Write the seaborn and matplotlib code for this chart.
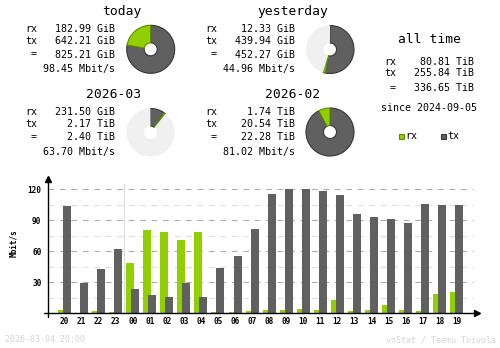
import numpy as np
import pandas as pd
import matplotlib
matplotlib.use("Agg")
import matplotlib.pyplot as plt
import seaborn as sns
from matplotlib.patches import Rectangle

sns.set_theme(style="white")
plt.rcParams['font.family'] = ['DejaVu Sans Mono']

# ---------------- data ----------------
hours = ["20", "21", "22", "23", "00", "01", "02", "03", "04", "05", "06", "07",
         "08", "09", "10", "11", "12", "13", "14", "15", "16", "17", "18", "19"]
rx_mbit = [3.2, 0.0, 2.3, 1.3, 48.7, 80.6, 78.7, 71.0, 78.7, 1.3, 1.3, 2.3,
           3.2, 3.2, 4.2, 3.2, 12.9, 2.3, 3.2, 8.1, 3.2, 2.3, 18.7, 20.6]
tx_mbit = [104.2, 29.7, 43.2, 62.3, 23.5, 17.7, 15.8, 29.4, 15.8, 43.9, 55.5, 81.6,
           115.5, 120.3, 120.3, 118.4, 114.5, 96.1, 93.2, 91.3, 87.4, 105.8, 104.8, 104.8]
y_ticks = [30, 60, 90, 120]

# summary blocks: title, rx text, tx text, total text, rate text
today = ["today", "182.99 GiB", "642.21 GiB", "825.21 GiB", "98.45 Mbit/s"]
yesterday = ["yesterday", "12.33 GiB", "439.94 GiB", "452.27 GiB", "44.96 Mbit/s"]
month_cur = ["2026-03", "231.50 GiB", "2.17 TiB", "2.40 TiB", "63.70 Mbit/s"]
month_prev = ["2026-02", "1.74 TiB", "20.54 TiB", "22.28 TiB", "81.02 Mbit/s"]
alltime = ["all time", "80.81 TiB", "255.84 TiB", "336.65 TiB", "since 2024-09-05"]

# pie values (rx, tx, reference max) in common units
pie_today = (182.99, 642.21, 825.21)
pie_yesterday = (12.33, 439.94, 825.21)
pie_cur = (231.50 / 1024, 2.17, 22.28)
pie_prev = (1.74, 20.54, 22.28)

footer_left = "2026-03-04 20:00"
footer_right = "vnStat / Teemu Toivola"

RX = "#92cf00"
TX = "#606060"
RXD = "#5f8a00"
TXD = "#363636"
EMPTY = "#f0f0f0"

W, H = 500, 348
fig = plt.figure(figsize=(5, 3.48), dpi=100)
fig.patch.set_facecolor("white")

ov = fig.add_axes([0, 0, 1, 1])
ov.set_xlim(0, W)
ov.set_ylim(H, 0)
ov.axis("off")
ov.patch.set_alpha(0)

FS = 7.2
TFS = 9.4


def block(data, lx, vx, cx, ty, rows):
    ov.text(cx, ty, data[0], ha="center", va="center", fontsize=TFS, color="black")
    for lab, val, y in zip(["rx", "tx", "="], data[1:4], rows[:3]):
        ov.text(lx, y, lab, ha="right", va="center", fontsize=FS, color="black")
        ov.text(vx, y, val, ha="right", va="center", fontsize=FS, color="black")
    ov.text(vx, rows[3], data[4], ha="right", va="center", fontsize=FS, color="black")


block(today, 37, 115, 122, 12, [29.3, 41.3, 54.5, 69.3])
block(yesterday, 217, 295, 293, 12, [29.3, 41.3, 54.5, 69.3])
block(month_cur, 37, 115, 114, 94.3, [112, 124, 137.3, 152])
block(month_prev, 217, 295, 293, 94.3, [112, 124, 137.3, 152])

# all time block
ov.text(429, 39.3, alltime[0], ha="center", va="center", fontsize=TFS, color="black")
for lab, val, y in zip(["rx", "tx", "="], alltime[1:4], [61.7, 73.3, 87.7]):
    ov.text(396, y, lab, ha="right", va="center", fontsize=FS, color="black")
    ov.text(474, y, val, ha="right", va="center", fontsize=FS, color="black")
ov.text(429, 108, alltime[4], ha="center", va="center", fontsize=FS, color="black")

# legend
ov.add_patch(Rectangle((398.5, 133.5), 5, 5, facecolor=RX, edgecolor=RXD, lw=0.8))
ov.text(405, 136, "rx", ha="left", va="center", fontsize=FS, color="black")
ov.add_patch(Rectangle((440.5, 133.5), 5, 5, facecolor=TX, edgecolor=TXD, lw=0.8))
ov.text(447, 136, "tx", ha="left", va="center", fontsize=FS, color="black")

# footer
ov.text(5, 340, footer_left, ha="left", va="center", fontsize=6, color="#d4d4d4")
ov.text(496, 340, footer_right, ha="right", va="center", fontsize=6, color="#d4d4d4")


def pie(cx, cy, vals, r=24, hole=6.5):
    rxv, txv, mx = vals
    empty = max(mx - rxv - txv, 0)
    pax = fig.add_axes([(cx - r - 1) / W, (H - cy - r - 1) / H, (2 * r + 2) / W, (2 * r + 2) / H])
    wedges, _ = pax.pie([txv, rxv, empty], colors=[TX, RX, EMPTY], startangle=90,
                        counterclock=False, radius=r / (r + 1),
                        wedgeprops=dict(width=(r - hole) / (r + 1), linewidth=0))
    wedges[0].set_edgecolor(TXD)
    wedges[0].set_linewidth(0.8)
    wedges[1].set_edgecolor(RXD)
    wedges[1].set_linewidth(0.8)
    pax.set_xlim(-1, 1)
    pax.set_ylim(-1, 1)
    pax.axis("off")


pie(150.7, 49.3, pie_today)
pie(330, 49.5, pie_yesterday)
pie(150.5, 132.5, pie_cur)
pie(330, 132, pie_prev)

# ---------------- bar chart ----------------
left_px, right_px = 48.3, 477
base_px = 313.3
unit_px = 124.0 / 120.0
top_px = 179
tick0_px, step_px = 64.5, 17.05

ax = fig.add_axes([left_px / W, (H - base_px) / H, (right_px - left_px) / W, (base_px - top_px) / H])
ax.patch.set_alpha(0)
xmin = -(tick0_px - left_px) / step_px
xmax = 23 + (right_px - (tick0_px + 23 * step_px)) / step_px
ymax = (base_px - top_px) / unit_px

pos = np.arange(len(hours), dtype=float)
off = 2.5 / step_px
bw = 8.0 / step_px
df = pd.DataFrame({"pos": pos, "hour": hours, "rx": rx_mbit, "tx": tx_mbit})

# grid
gx = (473 - left_px) / (right_px - left_px)
for v in [15, 45, 75, 105]:
    ax.axhline(v, xmin=0, xmax=gx, color="#dcdcdc", lw=0.75, dashes=(5.5, 5.5), zorder=0)
for v in y_ticks:
    ax.axhline(v, xmin=0, xmax=gx, color="#acacac", lw=0.75, dashes=(5.5, 5.5), zorder=0)

sns.barplot(x=df["pos"] - off, y=df["rx"], native_scale=True, width=bw, color=RX,
            saturation=1, linewidth=0, errorbar=None, ax=ax, zorder=2)
sns.barplot(x=df["pos"] + off, y=df["tx"], native_scale=True, width=bw, color=TX,
            saturation=1, linewidth=0, errorbar=None, ax=ax, zorder=3)

# day boundary
b = hours.index("00") - 0.5
ax.axvline(b, ymin=0, ymax=(base_px - 184) / (base_px - top_px), color="#dcdcdc", lw=0.8, zorder=1)

ax.set_xlim(xmin, xmax)
ax.set_ylim(0, ymax)
for s in ax.spines.values():
    s.set_visible(False)

# axes lines with arrows
ax.plot([-(4 / (right_px - left_px)), 1.0], [0, 0], transform=ax.transAxes, color="black",
        lw=1.0, clip_on=False, zorder=5)
ax.plot([0, 0], [-(3.4 / (base_px - top_px)), 1.0], transform=ax.transAxes, color="black",
        lw=1.0, clip_on=False, zorder=5)
ax.plot([1.0], [0], transform=ax.transAxes, marker=">", color="black", markersize=4,
        clip_on=False, zorder=6)
ax.plot([0], [1.0], transform=ax.transAxes, marker="^", color="black", markersize=4,
        clip_on=False, zorder=6)

ax.set_xticks(pos)
ax.set_xticklabels(hours, fontsize=5.6, fontweight="bold", color="black")
ax.set_yticks(y_ticks)
ax.set_yticklabels([str(t) for t in y_ticks], fontsize=5.6, fontweight="bold", color="black")
ax.tick_params(axis="both", length=0)
ax.tick_params(axis="x", pad=3)
ax.tick_params(axis="y", pad=5)
ax.set_xlabel("")
ax.set_ylabel("")
ov.text(14, 243, "Mbit/s", rotation=90, ha="center", va="center", fontsize=5.6,
        fontweight="bold", color="black")

fig.savefig("out.png", dpi=100, facecolor="white")
